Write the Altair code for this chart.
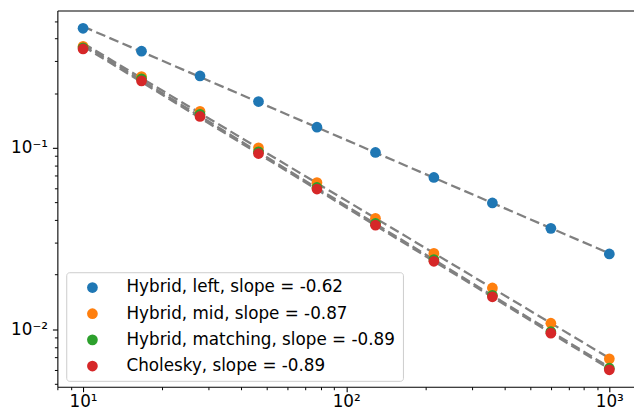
import altair as alt
import pandas as pd

# ---- data ----
x_vals = [10, 16.68, 27.83, 46.42, 77.43, 129.2, 215.4, 359.4, 599.5, 1000]
series_names = [
    "Hybrid, left, slope = -0.62",
    "Hybrid, mid, slope = -0.87",
    "Hybrid, matching, slope = -0.89",
    "Cholesky, slope = -0.89",
]
hybrid_left = [0.456, 0.341, 0.249, 0.180, 0.130, 0.0943, 0.0687, 0.0497, 0.0360, 0.0260]
hybrid_mid = [0.363, 0.247, 0.159, 0.100, 0.0643, 0.0409, 0.0262, 0.0169, 0.0108, 0.00687]
hybrid_matching = [0.356, 0.240, 0.153, 0.095, 0.0605, 0.0383, 0.0242, 0.0154, 0.0097, 0.0061]
cholesky = [0.351, 0.234, 0.149, 0.093, 0.0593, 0.0375, 0.0237, 0.0151, 0.00952, 0.00598]
series_colors = ["#1f77b4", "#ff7f0e", "#2ca02c", "#d62728"]

x_major = [10, 100, 1000]
x_major_labels = ["10¹", "10²", "10³"]
x_minor = [8, 9, 20, 30, 40, 50, 60, 70, 80, 90, 200, 300, 400, 500, 600, 700, 800, 900]
y_major = [0.01, 0.1]
y_major_labels = ["10⁻²", "10⁻¹"]
y_minor = [0.005, 0.006, 0.007, 0.008, 0.009,
           0.02, 0.03, 0.04, 0.05, 0.06, 0.07, 0.08, 0.09,
           0.2, 0.3, 0.4, 0.5]

rows = []
for name, ys in zip(series_names, [hybrid_left, hybrid_mid, hybrid_matching, cholesky]):
    for xv, yv in zip(x_vals, ys):
        rows.append({"x": xv, "y": yv, "series": name})
df = pd.DataFrame(rows)


def label_expr(values, labels):
    expr = "''"
    for v, l in zip(values, labels):
        expr = f"(abs(datum.value - {v}) < {v}*1e-6) ? '{l}' : " + expr
    return expr


FONT = "DejaVu Sans"
FS = 17
xscale = alt.Scale(type="log", domain=[7.987, 1241], nice=False)
yscale = alt.Scale(type="log", domain=[0.00482, 0.571], nice=False)

minor_x = alt.Axis(orient="bottom", values=x_minor, labels=False, tickSize=3,
                   tickColor="black", tickWidth=1, domain=True, domainColor="black",
                   domainWidth=1.1, grid=False, title=None)
minor_y = alt.Axis(orient="left", values=y_minor, labels=False, tickSize=3,
                   tickColor="black", tickWidth=1, domain=True, domainColor="black",
                   domainWidth=1.1, grid=False, title=None)
major_x = alt.Axis(orient="bottom", values=x_major, labelExpr=label_expr(x_major, x_major_labels),
                   tickSize=5, tickColor="black", tickWidth=1.1, domain=False, grid=False,
                   title=None, labelFont=FONT, labelFontSize=FS, labelColor="black",
                   labelPadding=2, labelFlush=False)
major_y = alt.Axis(orient="left", values=y_major, labelExpr=label_expr(y_major, y_major_labels),
                   tickSize=5, tickColor="black", tickWidth=1.1, domain=False, grid=False,
                   title=None, labelFont=FONT, labelFontSize=FS, labelColor="black",
                   labelPadding=5)
top_x = alt.Axis(orient="top", ticks=False, labels=False, domain=True, domainColor="black",
                 domainWidth=1.1, grid=False, title=None)

fits = (
    alt.Chart(df)
    .transform_calculate(lx="log(datum.x)/LN10", ly="log(datum.y)/LN10")
    .transform_regression("lx", "ly", groupby=["series"], extent=[1, 3])
    .transform_calculate(x="pow(10, datum.lx)", y="pow(10, datum.ly)")
    .mark_line(color="#808080", strokeWidth=2.3, strokeDash=[10, 4.5])
    .encode(
        x=alt.X("x:Q", scale=xscale, axis=minor_x),
        y=alt.Y("y:Q", scale=yscale, axis=minor_y),
        detail="series:N",
    )
)

points = (
    alt.Chart(df)
    .mark_circle(size=118, opacity=1)
    .encode(
        x=alt.X("x:Q", scale=xscale, axis=major_x),
        y=alt.Y("y:Q", scale=yscale, axis=major_y),
        color=alt.Color(
            "series:N",
            scale=alt.Scale(domain=series_names, range=series_colors),
            legend=alt.Legend(
                orient="none", legendX=9, legendY=265, title=None,
                labelFont=FONT, labelFontSize=FS, labelColor="black", labelLimit=500,
                symbolType="circle", symbolSize=118, symbolStrokeWidth=0,
                symbolOffset=11, labelOffset=26, padding=7, rowPadding=8.5,
                strokeColor="#cccccc", fillColor="rgba(255,255,255,0.8)",
                cornerRadius=3,
            ),
        ),
    )
)

frame = (
    alt.Chart(df)
    .mark_point(opacity=0)
    .encode(
        x=alt.X("x:Q", scale=xscale, axis=top_x),
        y=alt.Y("y:Q", scale=yscale, axis=None),
    )
)

chart = (
    alt.layer(fits, points, frame)
    .resolve_scale(x="shared", y="shared")
    .resolve_axis(x="independent", y="independent")
    .properties(
        width=584, height=381,
        autosize=alt.AutoSizeParams(type="none"),
        padding={"left": 50, "top": 0, "right": 0, "bottom": 28},
        background="white",
    )
    .configure_view(stroke=None)
)

chart.save("out.html", embed_options={"renderer": "svg", "actions": False})
